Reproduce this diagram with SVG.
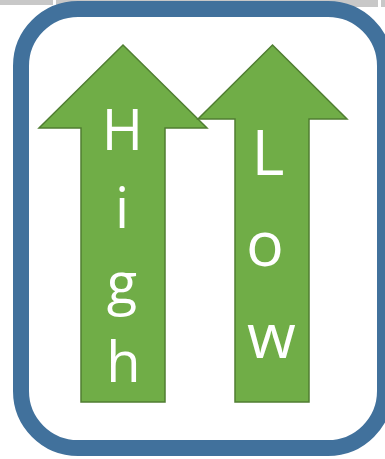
<svg xmlns="http://www.w3.org/2000/svg" width="385" height="459" viewBox="0 0 385 459">
  <style>
    .bar { fill: #c8c8c8; }
    .frame { fill: #ffffff; stroke: #41719c; stroke-width: 16; }
    .arrow { fill: #70ad47; stroke: #507e32; stroke-width: 1.5; stroke-linejoin: miter; }
    .lbl { fill: #ffffff; font-family: "Open Sans", "Noto Sans", "Liberation Sans", sans-serif; text-anchor: middle; }
    .hi { font-size: 56px; }
    .lo { font-size: 63px; }
  </style>

  <!-- toolbar strip along the top edge -->
  <g id="toolbar">
    <rect class="bar" x="0" y="0" width="53" height="5"/>
    <rect class="bar" x="56" y="0" width="322" height="7"/>
    <rect class="bar" x="381" y="0" width="4" height="7"/>
  </g>

  <!-- rounded outer frame -->
  <g id="frame">
    <rect class="frame" x="21" y="9" width="364" height="439" rx="57" ry="57"/>
  </g>

  <!-- "High" arrow -->
  <g id="arrow-high">
    <polygon class="arrow" points="123,45 207,128 165,128 165,402 81,402 81,128 39,128"/>
    <text class="lbl hi" x="122.5" y="150">H</text>
    <text class="lbl hi" x="122" y="228">i</text>
    <text class="lbl hi" x="122" y="303">g</text>
    <text class="lbl hi" x="123.5" y="382">h</text>
  </g>

  <!-- "Low" arrow -->
  <g id="arrow-low">
    <polygon class="arrow" points="272.5,45 347,119 309,119 309,402 235,402 235,119 198,119"/>
    <text class="lbl lo" x="268" y="175">L</text>
    <text class="lbl lo" x="265" y="266">o</text>
    <text class="lbl lo" x="271.5" y="358">w</text>
  </g>
</svg>
